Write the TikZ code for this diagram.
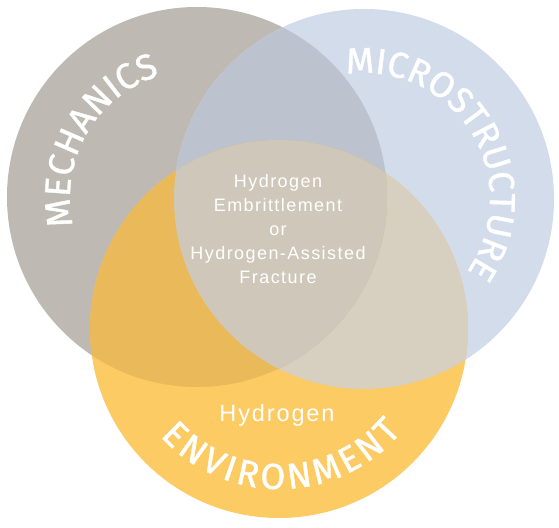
\documentclass[tikz,border=0pt]{standalone}
\usepackage{fontspec}
\setmainfont{Liberation Sans}
\newfontfamily\arcfamily[FakeBold=1.2]{Fira Sans}
\usetikzlibrary{calc, decorations.text}
\definecolor{mechgray}{HTML}{BEB9B2}
\definecolor{microblue}{HTML}{D3DCEB}
\definecolor{envyellow}{HTML}{FCCB63}
\definecolor{mechmicro}{HTML}{BCC2CE}
\definecolor{mechenv}{HTML}{E9B95A}
\definecolor{microenv}{HTML}{D7CFC0}
\definecolor{allthree}{HTML}{CFC8BA}
\newcommand{\arcfont}{\arcfamily\fontsize{36}{36}\selectfont}

\begin{document}
\begin{tikzpicture}[x=1pt, y=1pt,
    arclabel/.style={decorate, decoration={text along path, text color=white,
        text align=fit to path, text={#1}}}]
    \path[use as bounding box, fill=white] (0,0) rectangle (559,527);
    \coordinate (mech) at (197,330);
    \coordinate (micro) at (364,328);
    \coordinate (env) at (279,198);

    % the three circles
    \fill[mechgray] (mech) circle[radius=190];
    \fill[microblue] (micro) circle[radius=190];
    \fill[envyellow] (env) circle[radius=189];

    % overlaps
    \begin{scope}
        \clip (micro) circle[radius=190];
        \fill[microenv] (env) circle[radius=189];
    \end{scope}
    \begin{scope}
        \clip (mech) circle[radius=190];
        \fill[mechmicro] (micro) circle[radius=190];
        \fill[mechenv] (env) circle[radius=189];
        \clip (micro) circle[radius=190];
        \fill[allthree] (env) circle[radius=189];
    \end{scope}

    % labels along the rims
    \path[arclabel={|\arcfont|MECHANICS}]
        ($(mech)+(193:127)$) arc[start angle=193, end angle=107, radius=127];
    \path[arclabel={|\arcfont|MICROSTRUCTURE}]
        ($(micro)+(98:126)$) arc[start angle=98, end angle=-35, radius=126];
    \path[arclabel={|\arcfont|ENVIRONMENT}]
        ($(env)+(222:160)$) arc[start angle=222, end angle=320, radius=160];

    \node[align=center, text=white, inner sep=0pt,
        font=\fontsize{18}{24}\selectfont\addfontfeatures{LetterSpace=8}] (he) at (278,298)
        {Hydrogen\\Embrittlement\\or\\Hydrogen-Assisted\\Fracture};
    \node[anchor=base, text=white, inner sep=0pt,
        font=\fontsize{23.5}{28}\selectfont\addfontfeatures{LetterSpace=8}] (envh) at (277,105)
        {Hydrogen};
\end{tikzpicture}
\end{document}
